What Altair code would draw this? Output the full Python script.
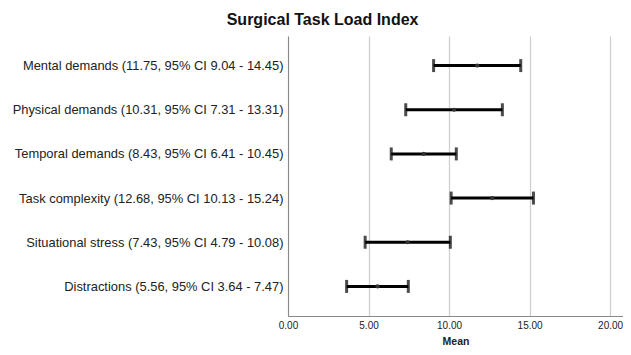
import altair as alt
import pandas as pd

items = ["Mental demands", "Physical demands", "Temporal demands",
         "Task complexity", "Situational stress", "Distractions"]
means = [11.75, 10.31, 8.43, 12.68, 7.43, 5.56]
lows = [9.04, 7.31, 6.41, 10.13, 4.79, 3.64]
highs = [14.45, 13.31, 10.45, 15.24, 10.08, 7.47]

labels = [f"{n} ({m:.2f}, 95% CI {l:.2f} - {h:.2f})" for n, m, l, h in zip(items, means, lows, highs)]
df = pd.DataFrame({"label": labels, "mean": means, "low": lows, "high": highs})

FONT = "Liberation Sans"
y = alt.Y("label:N", sort=labels, title=None,
          scale=alt.Scale(type="point", padding=0.67),
          axis=alt.Axis(labelFont=FONT, labelFontSize=12.9, labelColor="#222222",
                        ticks=False, labelPadding=5, domainColor="#888888",
                        grid=False, labelLimit=400))
xscale = alt.Scale(domain=[0, 20.8], nice=False, zero=True)
xaxis = alt.Axis(values=[0, 5, 10, 15, 20], format=".2f", labelFont=FONT, labelFontSize=10,
                 labelColor="#222222", ticks=False, domainColor="#888888", labelFlush=False,
                 gridColor="#d0d0d0", gridWidth=1.3, title="Mean", titleFont=FONT,
                 titleFontSize=10.5, titleFontWeight="bold", titleColor="#222222",
                 titlePadding=6, labelPadding=4)

base = alt.Chart(df)
rule = base.mark_rule(color="black", strokeWidth=3).encode(
    x=alt.X("low:Q", scale=xscale, axis=xaxis), x2="high:Q", y=y)
cap_lo = base.mark_tick(color="black", thickness=3, size=13, orient="vertical").encode(
    x=alt.X("low:Q", scale=xscale), y=y)
cap_hi = base.mark_tick(color="black", thickness=3, size=13, orient="vertical").encode(
    x=alt.X("high:Q", scale=xscale), y=y)
pt = base.mark_point(filled=True, color="#333333", size=18, opacity=1).encode(
    x=alt.X("mean:Q", scale=xscale), y=y)

chart = (rule + cap_lo + cap_hi + pt).properties(
    width=615, height=339,
    autosize=alt.AutoSizeParams(type="fit", contains="padding"),
    padding={"left": 4, "top": 4, "right": 0, "bottom": 0},
    title=alt.TitleParams("Surgical Task Load Index", font=FONT, fontSize=16,
                          fontWeight="bold", color="#111111", anchor="middle",
                          frame="bounds", dx=5, offset=8),
).configure_view(stroke=None)

chart.save("out.html", embed_options={"renderer": "svg", "actions": False})
